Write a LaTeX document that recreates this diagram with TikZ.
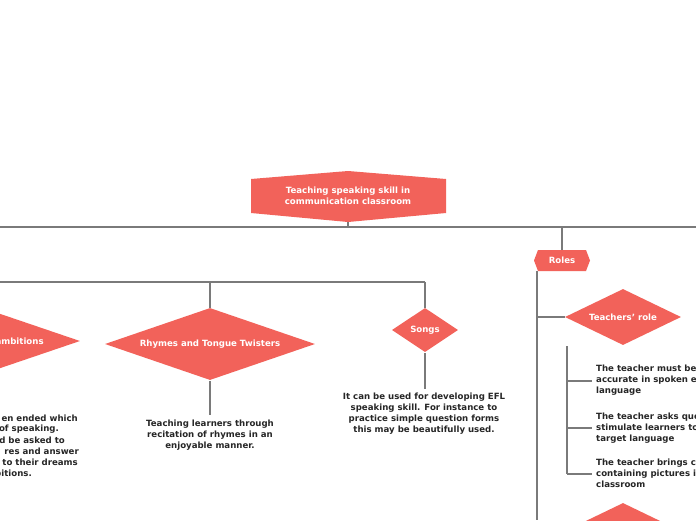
\documentclass[tikz,border=0pt]{standalone}
\usepackage{fontspec}
\setmainfont{DejaVu Sans}
\usetikzlibrary{shapes.geometric}
\definecolor{nodered}{HTML}{F2625A}
\definecolor{linegray}{HTML}{7A7A7A}
\tikzset{
  dia/.style={diamond,fill=nodered,text=white,font=\fontsize{8.6}{11}\selectfont\bfseries,inner sep=0pt,aspect=2},
  conn/.style={draw=linegray,line width=1.1pt},
  txt/.style={font=\fontsize{8.6}{11}\selectfont\bfseries,text=black!85,inner sep=0pt},
  wtxt/.style={font=\fontsize{8.6}{11}\selectfont\bfseries,text=white,align=center,inner sep=0pt}
}
\begin{document}
\begin{tikzpicture}[x=1pt,y=-1pt]
\useasboundingbox (0,0) rectangle (696,520);
\clip (0,0) rectangle (696,520);
\fill[white] (0,0) rectangle (696,520);
% root
\fill[nodered] (251,179) -- (348,171) -- (446,179) -- (446,213) -- (348,222) -- (251,213) -- cycle;
\node[wtxt] (root) at (348,196) {Teaching speaking skill in\\communication classroom};
\coordinate (rootb) at (348,222);
\coordinate (hl) at (0,227);
\coordinate (hr) at (696,227);
\draw[conn] (hl) -- (hr);
\draw[conn] (rootb) -- (348,227);
% roles
\fill[nodered] (534,260.5) -- (538,250) -- (586,250) -- (590,260.5) -- (586,271) -- (538,271) -- cycle;
\node[wtxt] (roles) at (562,260.5) {Roles};
\draw[conn] (562,227) -- (562,250);
% left branch
\coordinate (ll) at (0,282);
\draw[conn] (ll) -- (425,282);
\draw[conn] (210,282) -- (210,308);
\draw[conn] (425,282) -- (425,308);
% dreams
\node[dia,aspect=3,minimum width=182pt,minimum height=62pt] (dreams) at (-11,341) {Dreams and ambitions};
\foreach \t/\x/\y in {en ended which/78/418, of speaking./59/429, d be asked to/65/440, res and answer/79/451, to their dreams/78/462, bitions./32/473}
  \node[txt,anchor=east] at (\x,\y) {\t};
% rhymes
\node[dia,aspect=3,minimum width=210pt,minimum height=72pt] (rhymes) at (210,344) {Rhymes and Tongue Twisters};
\node[txt,align=center,anchor=north] (rt) at (210,420) {Teaching learners through\\recitation of rhymes in an\\enjoyable manner.};
\draw[conn] (rhymes.south) ++(0,1) -- (210,415);
% songs
\node[dia,aspect=1.5,minimum width=66pt,minimum height=44pt] (songs) at (425,330) {Songs};
\draw[conn] (songs.south) ++(0,1) -- (425,389);
\node[txt,align=center,anchor=north] (st) at (424,393) {It can be used for developing EFL\\speaking skill. For instance to\\practice simple question forms\\this may be beautifully used.};
% teachers role
\draw[conn] (537,271) -- (537,520);
\node[dia,minimum width=116pt,minimum height=56pt] (teach) at (623,317) {Teachers' role};
\draw[conn] (537,317) -- (teach.west);
\draw[conn] (567,346) -- (567,474);
\foreach \y in {381,428,474} \draw[conn] (567,\y) -- (592,\y);
\node[txt,align=left,anchor=north west] (t1) at (596,365) {The teacher must be\\accurate in spoken english\\language};
\node[txt,align=left,anchor=north west] (t2) at (596,413) {The teacher asks questions to\\stimulate learners to use the\\target language};
\node[txt,align=left,anchor=north west] (t3) at (596,459) {The teacher brings charts\\containing pictures in the\\classroom};
\node[dia,minimum width=116pt,minimum height=56pt] (learn) at (623,531) {};
\end{tikzpicture}
\end{document}
